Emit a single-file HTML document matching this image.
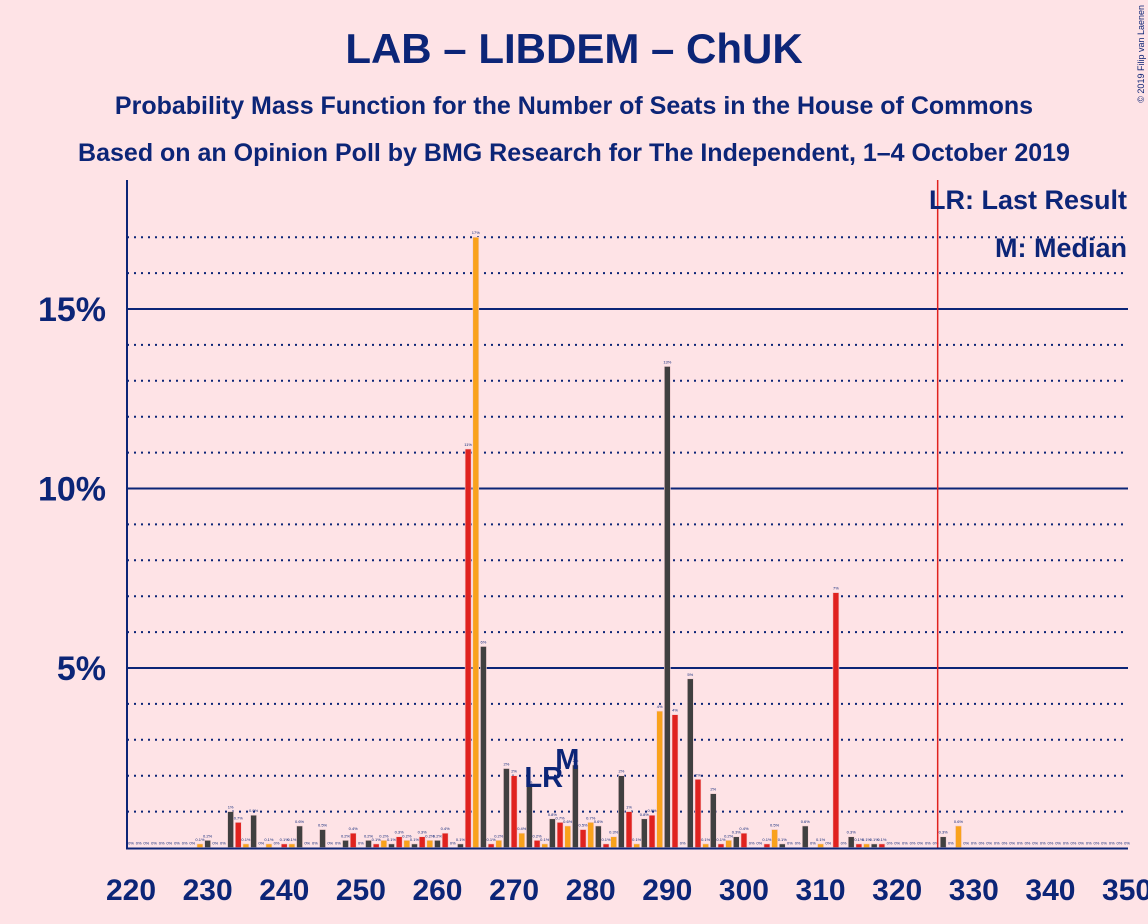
<!DOCTYPE html>
<html><head><meta charset="utf-8"><style>
body{margin:0;background:#fee3e6;}
svg{display:block;font-family:"Liberation Sans",sans-serif;}
</style></head><body>
<svg id="chart" width="1148" height="924" viewBox="0 0 1148 924" xmlns="http://www.w3.org/2000/svg">
<rect width="1148" height="924" fill="#fee3e6"/>
<text x="574" y="63" text-anchor="middle" font-size="42" font-weight="bold" fill="#0c2577">LAB – LIBDEM – ChUK</text>
<text x="574" y="114" text-anchor="middle" font-size="25" font-weight="bold" fill="#0c2577">Probability Mass Function for the Number of Seats in the House of Commons</text>
<text x="574" y="161" text-anchor="middle" font-size="25" font-weight="bold" fill="#0c2577">Based on an Opinion Poll by BMG Research for The Independent, 1–4 October 2019</text>
<text x="1144" y="5" transform="rotate(-90 1144 5)" text-anchor="end" font-size="9" fill="#0c2577">© 2019 Filip van Laenen</text>
<g id="grid"></g>
<g id="bars"></g>
<g id="axes"></g>
<text x="1127" y="209" text-anchor="end" font-size="27" font-weight="bold" fill="#0c2577">LR: Last Result</text>
<text x="1127" y="257" text-anchor="end" font-size="27" font-weight="bold" fill="#0c2577">M: Median</text>
</svg>
<script>
const seatStart = 220;
const probs = [0,0,0,0,0,0,0,0,0,0.1,0.2,0,0,1.0,0.7,0.1,0.9,0,0.1,0,
0.1,0.1,0.6,0,0,0.5,0,0,0.2,0.4,0,0.2,0.1,0.2,0.1,0.3,0.2,0.1,0.3,0.2,
0.2,0.4,0,0.1,11.1,17.0,5.6,0.1,0.2,2.2,2.0,0.4,1.7,0.2,0.1,0.8,0.7,0.6,2.3,0.5,
0.7,0.6,0.1,0.3,2.0,1.0,0.1,0.8,0.9,3.8,13.4,3.7,0,4.7,1.9,0.1,1.5,0.1,0.2,0.3,
0.4,0,0,0.1,0.5,0.1,0,0,0.6,0,0.1,0,7.1,0,0.3,0.1,0.1,0.1,0.1,0,
0,0,0,0,0,0,0.3,0,0.6,0,0,0,0,0,0,0,0,0,0,0,
0,0,0,0,0,0,0,0,0,0,0];
const xTicks = [220,230,240,250,260,270,280,290,300,310,320,330,340,350];
const yTicks = [5,10,15];
const lastResult = 274;
const median = 278;
const majority = 326;
const NS="http://www.w3.org/2000/svg";
const xs = s => 131 + (s-220)*7.662;
const ys = v => 847.5 - v*35.9;
const colors=["#e0221f","#f9a21c","#404040"];
function mk(tag,attrs,parent){const e=document.createElementNS(NS,tag);for(const k in attrs)e.setAttribute(k,attrs[k]);parent.appendChild(e);return e;}
const grid=document.getElementById('grid'),bars=document.getElementById('bars'),axes=document.getElementById('axes');
for(let p=1;p<=17;p++){
  const solid=yTicks.includes(p);
  const l=mk('line',{x1:127,x2:1128,y1:ys(p),y2:ys(p),stroke:'#0c2577','stroke-width':solid?2:2,'stroke-dasharray':solid?'none':'2 5'},grid);
  
  
}
yTicks.forEach(p=>{
  const t=mk('text',{x:106,y:ys(p)+12,'text-anchor':'end','font-size':34,'font-weight':'bold',fill:'#0c2577'},axes);
  t.textContent=p+'%';
  
  
});
probs.forEach((v,i)=>{
  const s=seatStart+i;
  const c=colors[s%3];
  const x=xs(s);
  if(v>0){
    const r=mk('rect',{x:x-3,y:ys(v),width:6,height:847.5-ys(v),fill:c,stroke:'#f3d0d3','stroke-width':0.6},bars);
    
    
  }
  const t=mk('text',{x:x,y:ys(v)-3,'text-anchor':'middle','font-size':4,fill:'#0c2577'},bars);
  t.textContent=(v>=1?Math.round(v):v)+'%';
  
  
});
const mj=mk('line',{x1:xs(majority)-5.5,x2:xs(majority)-5.5,y1:180,y2:848,stroke:'#e0221f','stroke-width':1.5},axes);


const lr=mk('text',{x:xs(lastResult)-1,y:787,'text-anchor':'middle','font-size':29,'font-weight':'bold',fill:'#0c2577'},axes);
lr.textContent='LR';


const md=mk('text',{x:xs(median)-8,y:ys(probs[median-seatStart])+4,'text-anchor':'middle','font-size':29,'font-weight':'bold',fill:'#0c2577'},axes);
md.textContent='M';


const ya=mk('line',{x1:127,x2:127,y1:180,y2:849,stroke:'#0c2577','stroke-width':2},axes);


const xa=mk('line',{x1:126,x2:1128,y1:848.5,y2:848.5,stroke:'#0c2577','stroke-width':2},axes);


xTicks.forEach(s=>{
  const t=mk('text',{x:xs(s),y:900,'text-anchor':'middle','font-size':30,'font-weight':'bold',fill:'#0c2577'},axes);
  t.textContent=s;
  
  
});
</script>
</body></html>
